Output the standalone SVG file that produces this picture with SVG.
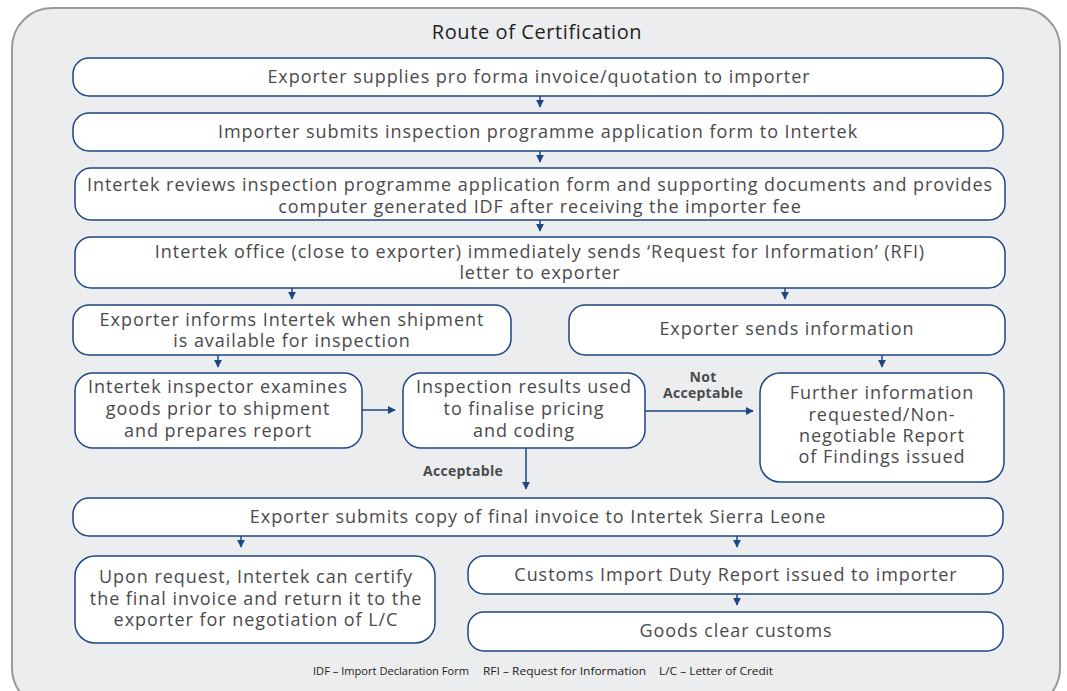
<svg xmlns="http://www.w3.org/2000/svg" width="1067" height="691" viewBox="0 0 1067 691">
<defs>
<marker id="ah" viewBox="0 0 10 10" refX="9" refY="5" markerWidth="8" markerHeight="8" markerUnits="userSpaceOnUse" orient="auto">
<path d="M0,0 L10,5 L0,10 Z" fill="#1d4685"/>
</marker>
</defs>
<style>
.bx{fill:#fff;stroke:#1d4685;stroke-width:1.5}
.t{font-family:"Open Sans","Liberation Sans",sans-serif;font-size:18px;letter-spacing:0.95px;fill:#4a4a4c;text-anchor:middle}
.lb{font-family:"Open Sans","Liberation Sans",sans-serif;font-size:14px;letter-spacing:0.3px;font-weight:bold;fill:#4a4a4c;text-anchor:middle}
.c{stroke:#1d4685;stroke-width:1.5;fill:none;marker-end:url(#ah)}
.fn{font-family:"Open Sans","Liberation Sans",sans-serif;font-size:11.5px;fill:#222}
</style>
<rect x="0" y="0" width="1067" height="691" fill="#ffffff"/>
<rect x="12" y="8" width="1048" height="700" rx="40" fill="#ecedef" stroke="#9a9a9a" stroke-width="2"/>
<text x="537" y="39" style="font-family:'Open Sans','Liberation Sans',sans-serif;font-size:20px;letter-spacing:0.6px;fill:#222;text-anchor:middle">Route of Certification</text>

<g id="n1"><rect class="bx" x="73" y="58" width="930" height="38" rx="16"/><text class="t" x="539" y="83">Exporter supplies pro forma invoice/quotation to importer</text></g>
<g id="n2"><rect class="bx" x="73" y="113" width="930" height="38" rx="16"/><text class="t" x="538" y="138">Importer submits inspection programme application form to Intertek</text></g>
<g id="n3"><rect class="bx" x="75" y="168" width="930" height="52" rx="16"/><text class="t"><tspan x="540" y="191">Intertek reviews inspection programme application form and supporting documents and provides</tspan><tspan x="540" y="213">computer generated IDF after receiving the importer fee</tspan></text></g>
<g id="n4"><rect class="bx" x="75" y="237" width="930" height="51" rx="16"/><text class="t"><tspan x="540" y="258">Intertek office (close to exporter) immediately sends ‘Request for Information’ (RFI)</tspan><tspan x="540" y="279">letter to exporter</tspan></text></g>
<g id="n5"><rect class="bx" x="73" y="305" width="438" height="50" rx="16"/><text class="t"><tspan x="292" y="326">Exporter informs Intertek when shipment</tspan><tspan x="292" y="347">is available for inspection</tspan></text></g>
<g id="n6"><rect class="bx" x="569" y="305" width="436" height="50" rx="16"/><text class="t" x="787" y="335">Exporter sends information</text></g>
<g id="n7"><rect class="bx" x="75" y="373" width="287" height="75" rx="18"/><text class="t"><tspan x="218" y="393">Intertek inspector examines</tspan><tspan x="218" y="415">goods prior to shipment</tspan><tspan x="218" y="437">and prepares report</tspan></text></g>
<g id="n8"><rect class="bx" x="403" y="373" width="242" height="75" rx="18"/><text class="t"><tspan x="524" y="393">Inspection results used</tspan><tspan x="524" y="415">to finalise pricing</tspan><tspan x="524" y="437">and coding</tspan></text></g>
<g id="n9"><rect class="bx" x="760" y="373" width="244" height="109" rx="20"/><text class="t"><tspan x="882" y="399">Further information</tspan><tspan x="882" y="421">requested/Non-</tspan><tspan x="882" y="442">negotiable Report</tspan><tspan x="882" y="463">of Findings issued</tspan></text></g>
<g id="n10"><rect class="bx" x="73" y="498" width="930" height="38" rx="16"/><text class="t" x="538" y="523">Exporter submits copy of final invoice to Intertek Sierra Leone</text></g>
<g id="n11"><rect class="bx" x="75" y="556" width="360" height="87" rx="20"/><text class="t"><tspan x="256" y="583">Upon request, Intertek can certify</tspan><tspan x="256" y="605">the final invoice and return it to the</tspan><tspan x="256" y="626">exporter for negotiation of L/C</tspan></text></g>
<g id="n12"><rect class="bx" x="468" y="556" width="535" height="38" rx="16"/><text class="t" x="736" y="581">Customs Import Duty Report issued to importer</text></g>
<g id="n13"><rect class="bx" x="468" y="612" width="535" height="39" rx="16"/><text class="t" x="736" y="637">Goods clear customs</text></g>

<g id="connectors">
<line class="c" x1="540" y1="96" x2="540" y2="107"/>
<line class="c" x1="540" y1="151" x2="540" y2="162"/>
<line class="c" x1="540" y1="220" x2="540" y2="231"/>
<line class="c" x1="292" y1="288" x2="292" y2="299"/>
<line class="c" x1="785" y1="288" x2="785" y2="299"/>
<line class="c" x1="218" y1="355" x2="218" y2="367"/>
<line class="c" x1="882" y1="355" x2="882" y2="367"/>
<line class="c" x1="362" y1="410" x2="395" y2="410"/>
<line class="c" x1="645" y1="411" x2="753" y2="411"/>
<line class="c" x1="526" y1="448" x2="526" y2="489"/>
<line class="c" x1="241" y1="536" x2="241" y2="547"/>
<line class="c" x1="737" y1="536" x2="737" y2="547"/>
<line class="c" x1="737" y1="594" x2="737" y2="605"/>
<text class="lb"><tspan x="703" y="382">Not</tspan><tspan x="703" y="398">Acceptable</tspan></text>
<text class="lb" x="463" y="476">Acceptable</text>
</g>
<text class="fn" x="313" y="675" textLength="156" lengthAdjust="spacingAndGlyphs">IDF – Import Declaration Form</text>
<text class="fn" x="483" y="675" textLength="163" lengthAdjust="spacingAndGlyphs">RFI – Request for Information</text>
<text class="fn" x="659" y="675" textLength="114" lengthAdjust="spacingAndGlyphs">L/C – Letter of Credit</text>
</svg>
